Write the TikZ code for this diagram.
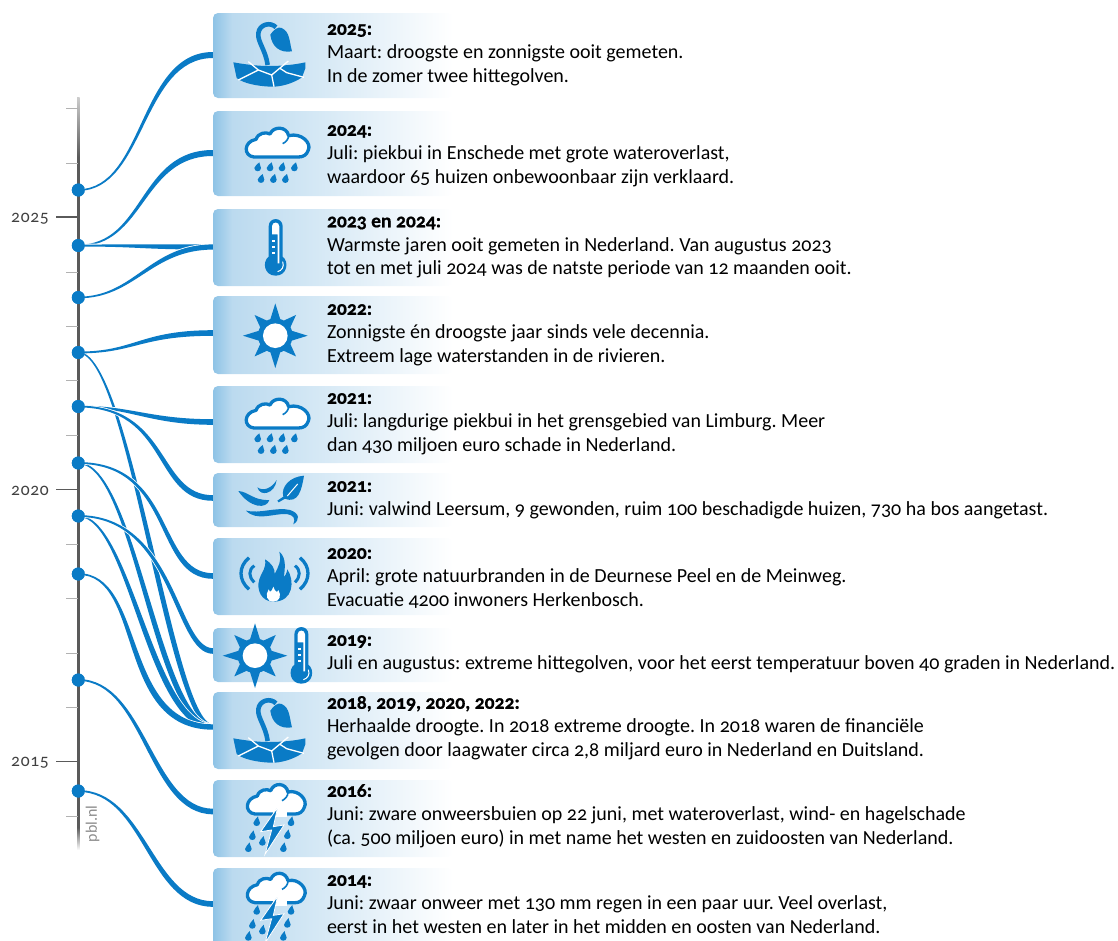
\documentclass[tikz,border=0pt]{standalone}
\usepackage{fontspec}
\usetikzlibrary{calc}
\setmainfont[Numbers=OldStyle,BoldFeatures={FakeBold=0.7}]{Carlito}
\definecolor{pblue}{HTML}{0A7BC6}
\definecolor{boxa}{HTML}{8EC3E6}
\definecolor{boxb}{HTML}{BBDAEF}
\definecolor{axisc}{HTML}{5A5A5A}
\pgfdeclarehorizontalshading{boxfade}{100bp}{color(0bp)=(boxa); color(25bp)=(boxa); color(29bp)=(boxb); color(75bp)=(white); color(100bp)=(white)}
\pgfdeclareverticalshading{axisfade}{100bp}{color(0bp)=(white); color(25bp)=(white); color(26.5bp)=(axisc); color(71bp)=(axisc); color(75bp)=(white!70!axisc); color(100bp)=(white!70!axisc)}
\tikzset{
 zc/.style={x=0.33333pt,y=-0.33333pt},
 boxn/.style={rectangle,rounded corners=5pt,shading=boxfade,minimum width=240pt,anchor=north west,inner sep=0pt,outer sep=0pt},
 dotn/.style={circle,fill=pblue,minimum size=13pt,inner sep=0pt,outer sep=0pt},
 linkn/.style={fill=pblue,preaction={draw=white,line width=1.6pt}},
 txtn/.style={anchor=north west,inner sep=0pt,outer sep=0pt,align=left,font=\frenchspacing\fontsize{20}{23.7}\selectfont},
 axn/.style={anchor=east,inner sep=0pt,text=black!75,font=\fontsize{17.5}{20}\selectfont},
 minort/.style={draw=black!30,line width=1pt},
 majort/.style={draw=axisc,line width=1.2pt},
 pics/cloudrain/.style={code={\begin{scope}[zc]
  \draw[pblue,fill=white,line width=3.3pt,line join=round] (762,471) .. controls (730,468) and (730,425) .. (768,418) .. controls (775,398) and (798,395) .. (810,402) .. controls (820,378) and (860,378) .. (866,407) .. controls (905,397) and (935,430) .. (925,450) .. controls (920,465) and (910,471) .. (895,471) -- cycle;
  \draw[pblue,line width=1.6pt] (866,405) .. controls (866,418) and (858,426) .. (848,431);
  \foreach \a/\b in {773/502,810/502,846/502,883/502,783/537,820/537,856/537}{\fill[pblue] (\a+5,\b-15) .. controls (\a+6,\b-6) and (\a+10,\b-3) .. (\a+10,\b+2) .. controls (\a+10,\b+15) and (\a-10,\b+15) .. (\a-10,\b+2) .. controls (\a-10,\b-6) and (\a,\b-8) .. (\a+5,\b-15) -- cycle;}
 \end{scope}}},
 pics/cloudstorm/.style={code={\begin{scope}[zc]
  \draw[pblue,fill=white,line width=3.3pt,line join=round] (765,582) .. controls (732,578) and (735,535) .. (772,528) .. controls (778,508) and (800,506) .. (812,512) .. controls (822,486) and (858,488) .. (864,516) .. controls (895,508) and (925,540) .. (913,562) .. controls (908,576) and (898,582) .. (885,582) -- cycle;
  \draw[pblue,line width=1.6pt] (864,516) .. controls (864,529) and (856,537) .. (846,542);
  \fill[white] (820,572) rectangle (860,592);
  \fill[pblue,draw=white,line width=.8pt] (833,562) -- (782,635) -- (815,630) -- (795,703) -- (852,615) -- (820,620) -- cycle;
  \foreach \a/\b in {770/606,873/606,757/648,862/645,787/665,745/684,850/684}{\fill[pblue] (\a+4,\b-17) .. controls (\a+5,\b-6) and (\a+10,\b-3) .. (\a+10,\b+3) .. controls (\a+10,\b+15) and (\a-10,\b+15) .. (\a-10,\b+3) .. controls (\a-10,\b-6) and (\a,\b-8) .. (\a+4,\b-17) -- cycle;}
 \end{scope}}},
 pics/drought/.style={code={\begin{scope}[zc]
  \draw[pblue,line width=4.6pt] (803,195) .. controls (797,150) and (772,125) .. (775,100) .. controls (778,72) and (812,65) .. (828,82);
  \fill[pblue] (811,104) .. controls (820,90) and (835,78) .. (845,84) .. controls (870,95) and (868,125) .. (876,154) .. controls (840,160) and (815,140) .. (811,104) -- cycle;
  \fill[pblue] (700,187) .. controls (735,193) and (770,198) .. (807,198) .. controls (845,198) and (885,194) .. (916,187) -- (916,205) -- (906,232) .. controls (880,250) and (840,262) .. (810,260) .. controls (770,258) and (730,250) .. (710,234) -- cycle;
  \draw[white,line width=1.3pt] (745,185) -- (775,210) -- (815,225) -- (865,183);
  \draw[white,line width=1.3pt] (775,210) -- (715,240);
  \draw[white,line width=1.3pt] (815,225) -- (822,260);
  \draw[white,line width=1.3pt] (840,205) -- (860,218) -- (912,232);
 \end{scope}}},
 pics/thermo/.style={code={\begin{scope}[zc]
  \fill[pblue] (806,679) .. controls (806,650) and (848,650) .. (848,679) -- (848,770) .. controls (868,785) and (862,827) .. (827,827) .. controls (792,827) and (786,785) .. (806,770) -- cycle;
  \fill[white] (816,679) .. controls (816,664) and (838,664) .. (838,679) -- (838,790) -- (833,790) -- (833,703) -- (816,703) -- cycle;
  \foreach \b in {720,738,756}{\fill[white] (816,\b) rectangle (825,\b+6);}
  \draw[white,line width=1pt] (848,785) .. controls (854,800) and (845,812) .. (833,815);
 \end{scope}}},
 pics/sunicon/.style={code={\begin{scope}[zc]
  \fill[pblue] (0:97) \foreach \k in {1,...,16}{ -- ({\k*22.5}:{ifthenelse(int(mod(\k,2))==1,45,ifthenelse(int(mod(\k,4))==0,97,88))}) } -- cycle;
  \fill[pblue] (0,0) circle[radius=52];
  \fill[white] (0,0) circle[radius=37];
 \end{scope}}},
 pics/windleaf/.style={code={\begin{scope}[zc]
  \fill[pblue] (912,527) .. controls (870,530) and (842,560) .. (850,590) -- (832,602) -- (836,607) -- (855,596) .. controls (895,612) and (905,570) .. (912,527) -- cycle;
  \draw[white,line width=1pt] (893,552) -- (862,588);
  \fill[pblue] (715,573) .. controls (745,575) and (760,602) .. (808,600) .. controls (800,628) and (750,625) .. (715,573) -- cycle;
  \fill[pblue] (772,562) .. controls (790,575) and (815,565) .. (830,540) .. controls (825,582) and (780,592) .. (772,562) -- cycle;
  \fill[pblue] (738,632) .. controls (780,642) and (830,620) .. (870,630) .. controls (900,640) and (900,660) .. (880,673) .. controls (888,655) and (880,645) .. (860,642) .. controls (820,640) and (770,665) .. (738,632) -- cycle;
 \end{scope}}},
 pics/fireicon/.style={code={\begin{scope}[zc]
  \fill[pblue] (820,905) .. controls (785,905) and (768,870) .. (778,838) .. controls (785,815) and (800,805) .. (795,778) .. controls (815,790) and (825,805) .. (824,822) .. controls (835,800) and (845,785) .. (838,755) .. controls (862,775) and (853,810) .. (852,832) .. controls (856,826) and (860,820) .. (862,808) .. controls (884,840) and (882,905) .. (820,905) -- cycle;
  \fill[white] (820,905) .. controls (800,905) and (795,885) .. (806,868) .. controls (810,880) and (815,875) .. (820,860) .. controls (825,875) and (832,880) .. (835,870) .. controls (845,885) and (840,905) .. (820,905) -- cycle;
  \draw[pblue,line width=3.3pt] (747,773) .. controls (715,800) and (715,840) .. (747,868);
  \draw[pblue,line width=3pt] (763,797) .. controls (745,810) and (745,830) .. (763,847);
  \draw[pblue,line width=3.3pt] (900,773) .. controls (932,800) and (932,840) .. (900,868);
  \draw[pblue,line width=3pt] (885,797) .. controls (902,810) and (902,830) .. (885,847);
 \end{scope}}}
}
% connector: dot, box end, ctrl x 1, ctrl x 2, half start, half end, horizontal widening (dot side), horizontal widening (box side)
\newcommand\conn[8]{\path[linkn] ($(#1.center)+(0,-#5)$) .. controls ($(#3,0 |- #1.center)+(#7,-#5)$) and ($(#4,0 |- #2)+(#8,-#6)$) .. ($(#2)+(0,-#6)$) -- ($(#2)+(0,#6)$) .. controls ($(#4,0 |- #2)+(-#8,#6)$) and ($(#3,0 |- #1.center)+(-#7,#5)$) .. ($(#1.center)+(0,#5)$) -- cycle;}
\newcommand\ent[5]{\node[txtn] (#1) at (327,#2+0.8) {\rule{0pt}{14pt}{\bfseries\fontsize{19.6}{23.7}\selectfont #3}\\#4\ifx&#5&\else\\#5\fi};}
\begin{document}
\begin{tikzpicture}[x=1pt,y=-1pt]
\clip (0,0) rectangle (1118,940);
% axis
\shade[shading=axisfade] (77.1,97) rectangle (79.5,850);
\foreach \v in {108.5,163,272,326,380.5,435,544,598,653,707,816}{\draw[minort] (66,\v) -- (78,\v);}
\foreach \v/\t in {217/2025,489.5/2020,761.5/2015}{\draw[majort] (56,\v) -- (78,\v); \node[axn] (ax\t) at (49,\v+1.5) {\addfontfeature{LetterSpace=4}\t};}
\node[rotate=90,inner sep=0pt,text=black!45,font=\fontsize{16}{17}\selectfont] (pbl) at (92.5,824) {pbl.nl};
% dots
\foreach \n/\v in {1/190,2/245.5,3/297.5,4/352.5,5/406.5,6/463,7/516,8/574,9/680,10/791}{\node[dotn] (d\n) at (78.3,\v) {};}
% ends
\foreach \n/\v in {e1/55,e2/153,e3/247,e4/333,e5/422,e6/498,e7/576,e8/651,e9/727,e10/811.5,e11/904}{\coordinate (\n) at (213,\v);}
% connectors
\conn{d1}{e1}{145}{140}{0.8}{3}{-0.4}{-1.6}
\conn{d2}{e2}{145}{140}{0.8}{3}{-0.4}{-1.6}
\conn{d2}{e3}{140}{140}{1}{2.6}{0}{0}
\conn{d3}{e3}{135}{150}{0.8}{2.6}{-0.3}{-0.8}
\conn{d4}{e9}{130}{170}{0.8}{2.7}{1}{4}
\conn{d6}{e9}{135}{157}{0.8}{2.7}{1}{4}
\conn{d7}{e9}{130}{150}{0.8}{2.7}{1}{4}
\conn{d8}{e9}{145}{118}{0.8}{2.7}{1}{4}
\conn{d4}{e4}{135}{140}{0.9}{2.8}{0}{0}
\conn{d5}{e5}{130}{150}{0.9}{2.8}{0.1}{0.4}
\conn{d5}{e6}{170}{155}{0.9}{2.8}{0.6}{2.6}
\conn{d6}{e7}{175}{155}{0.9}{2.8}{0.6}{2.6}
\conn{d7}{e8}{175}{175}{0.9}{2.8}{0.6}{2.6}
\conn{d9}{e10}{145}{150}{0.9}{2.8}{0.6}{2.6}
\conn{d10}{e11}{145}{150}{0.9}{2.8}{0.6}{2.6}
\foreach \n in {1,...,10}{\node[dotn] at (d\n) {};}
% boxes
\foreach \n/\t/\h in {1/13/85,2/111/85,3/209/77,4/296/78,5/386/77,6/473/54,7/538/77,8/628/54,9/692/77,10/780/77,11/868/85}{\node[boxn,minimum height=\h pt] (b\n) at (213,\t) {};}
% icons
\pic at (0,0) {drought};
\pic at (0,0) {cloudrain};
\pic at (0,0) {thermo};
\pic at (275.3,335.7) {sunicon};
\pic at (0,271) {cloudrain};
\pic at (0,300) {windleaf};
\pic at (0,300) {fireicon};
\pic at (255,655.7) {sunicon};
\pic at (25.7,408) {thermo};
\pic at (0,676) {drought};
\pic at (0,620) {cloudstorm};
\pic at (0,708.7) {cloudstorm};
% text
\ent{t1}{20}{2025:}{Maart: droogste en zonnigste ooit gemeten.}{In de zomer twee hittegolven.}
\ent{t2}{121}{2024:}{Juli: piekbui in Enschede met grote wateroverlast,}{waardoor 65 huizen onbewoonbaar zijn verklaard.}
\ent{t3}{212.5}{2023 en 2024:}{Warmste jaren ooit gemeten in Nederland. Van augustus 2023}{tot en met juli 2024 was de natste periode van 12 maanden ooit.}
\ent{t4}{300}{2022:}{Zonnigste én droogste jaar sinds vele decennia.}{Extreem lage waterstanden in de rivieren.}
\ent{t5}{389}{2021:}{Juli: langdurige piekbui in het grensgebied van Limburg. Meer}{dan 430 miljoen euro schade in Nederland.}
\ent{t6}{477}{2021:}{Juni: valwind Leersum, 9 gewonden, ruim 100 beschadigde huizen, 730 ha bos aangetast.}{}
\ent{t7}{544}{2020:}{April: grote natuurbranden in de Deurnese Peel en de Meinweg.}{Evacuatie 4200 inwoners Herkenbosch.}
\ent{t8}{631}{2019:}{Juli en augustus: extreme hittegolven, voor het eerst temperatuur boven 40 graden in Nederland.}{}
\ent{t9}{694}{2018, 2019, 2020, 2022:}{Herhaalde droogte. In 2018 extreme droogte. In 2018 waren de financiële}{gevolgen door laagwater circa 2,8 miljard euro in Nederland en Duitsland.}
\ent{t10}{782}{2016:}{Juni: zware onweersbuien op 22 juni, met wateroverlast, wind- en hagelschade}{(ca. 500 miljoen euro) in met name het westen en zuidoosten van Nederland.}
\ent{t11}{871}{2014:}{Juni: zwaar onweer met 130 mm regen in een paar uur. Veel overlast,}{eerst in het westen en later in het midden en oosten van Nederland.}
\end{tikzpicture}
\end{document}
